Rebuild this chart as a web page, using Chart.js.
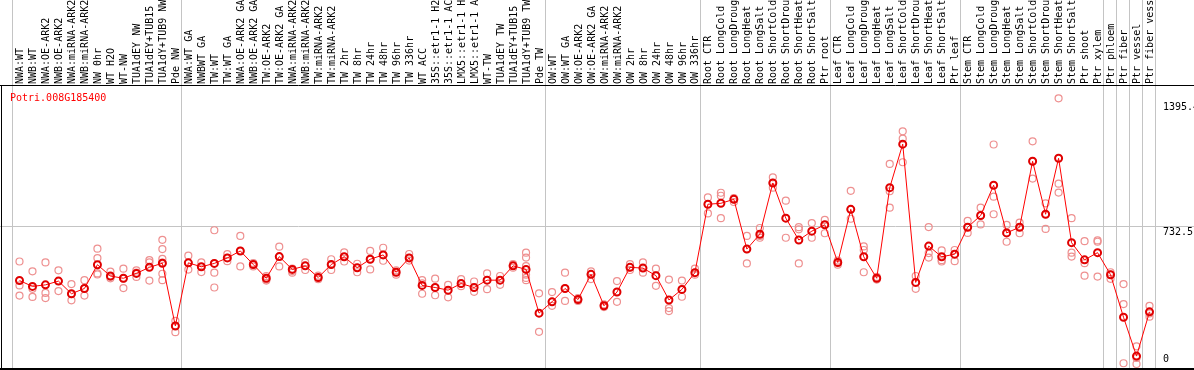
<!DOCTYPE html>
<html>
<head>
<meta charset="utf-8">
<script src="https://cdn.jsdelivr.net/npm/chart.js@4.4.0/dist/chart.umd.min.js"></script>
<style>
  html, body { margin: 0; padding: 0; background: #fff; }
  #wrap { width: 1194px; height: 370px; }
</style>
</head>
<body>
<div id="wrap"><canvas id="chart" width="1194" height="370"></canvas></div>
<script>
const geneName = 'Potri.008G185400';

const categories = [
  'NWA:WT', 'NWB:WT', 'NWA:OE-ARK2', 'NWB:OE-ARK2', 'NWA:miRNA-ARK2', 'NWB:miRNA-ARK2',
  'NW 0hr', 'WT H2O', 'WT-NW', 'TUA1dEY NW', 'TUA1dEY+TUB15 NW', 'TUA1dY+TUB9 NW', 'Pde NW',
  'NWA:WT GA', 'NWBWT GA', 'TW:WT', 'TW:WT GA', 'NWA:OE-ARK2 GA', 'NWB:OE-ARK2 GA',
  'TW:OE-ARK2', 'TW:OE-ARK2 GA', 'NWA:miRNA-ARK2', 'NWB:miRNA-ARK2', 'TW:miRNA-ARK2',
  'TW:miRNA-ARK2', 'TW 2hr', 'TW 8hr', 'TW 24hr', 'TW 48hr', 'TW 96hr', 'TW 336hr',
  'WT ACC', '35S::etr1-1 H2O', '35S::etr1-1 ACC', 'LMX5::etr1-1 H2O', 'LMX5::etr1-1 ACC',
  'WT-TW', 'TUA1dEY TW', 'TUA1dEY+TUB15 TW', 'TUA1dY+TUB9 TW', 'Pde TW',
  'OW:WT', 'OW:WT GA', 'OW:OE-ARK2', 'OW:OE-ARK2 GA', 'OW:miRNA-ARK2', 'OW:miRNA-ARK2',
  'OW 2hr', 'OW 8hr', 'OW 24hr', 'OW 48hr', 'OW 96hr', 'OW 336hr',
  'Root CTR', 'Root LongCold', 'Root LongDrought', 'Root LongHeat', 'Root LongSalt',
  'Root ShortCold', 'Root ShortDrought', 'Root ShortHeat', 'Root ShortSalt', 'Ptr root',
  'Leaf CTR', 'Leaf LongCold', 'Leaf LongDrought', 'Leaf LongHeat', 'Leaf LongSalt',
  'Leaf ShortCold', 'Leaf ShortDrought', 'Leaf ShortHeat', 'Leaf ShortSalt', 'Ptr leaf',
  'Stem CTR', 'Stem LongCold', 'Stem LongDrought', 'Stem LongHeat', 'Stem LongSalt',
  'Stem ShortCold', 'Stem ShortDrought', 'Stem ShortHeat', 'Stem ShortSalt',
  'Ptr shoot', 'Ptr xylem', 'Ptr phloem', 'Ptr fiber', 'Ptr vessel', 'Ptr fiber vessel'
];

// mean expression per sample (red line)
const means = [
  443, 412, 420, 440, 373, 401, 527, 467, 455, 481, 513, 535, 202,
  537, 516, 534, 563, 600, 528, 455, 570, 502, 521, 459, 528, 569, 511, 556, 579, 487, 563,
  417, 406, 392, 427, 406, 445, 445, 521, 502, 270,
  330, 401, 342, 476, 309, 382, 513, 509, 469, 340, 396, 485,
  848, 853, 874, 610, 689, 961, 774, 658, 705, 739,
  539, 821, 569, 455, 936, 1167, 433, 626, 569, 583,
  726, 788, 949, 696, 726, 1076, 795, 1092, 644, 553, 591,
  474, 248, 42, 277
];

// individual replicates (pale circles)
const replicates = [
  [544, 417, 363], [492, 399, 356], [539, 377, 350], [497, 440, 387], [424, 371, 338],
  [445, 401, 363], [612, 562, 481, 475], [490, 463, 455], [506, 453, 403], [497, 485, 462],
  [551, 539, 443], [659, 610, 558, 538, 479, 445], [229, 202, 169],
  [575, 537, 501], [539, 516, 488], [710, 534, 485, 406], [583, 563, 546], [680, 600, 518],
  [536, 527, 518], [466, 448, 443], [623, 568, 518], [507, 493, 485], [539, 521, 499],
  [469, 459, 450], [556, 528, 499], [593, 569, 544], [532, 511, 487], [600, 556, 502],
  [617, 579, 548], [497, 487, 474], [584, 563, 549], [445, 428, 373], [453, 406, 365],
  [420, 390, 354], [451, 427, 413], [438, 406, 383], [481, 445, 397], [467, 445, 420],
  [530, 521, 511], [591, 565, 520, 474, 457, 445], [375, 270, 171],
  [382, 330, 309], [485, 401, 335], [350, 342, 335], [492, 476, 451], [316, 309, 302],
  [440, 382, 330], [530, 513, 499], [539, 509, 485], [506, 469, 415], [448, 297, 281],
  [443, 396, 357], [506, 485, 474],
  [884, 848, 799], [909, 893, 774], [880, 874, 860], [680, 610, 534], [722, 680, 670],
  [991, 961, 936], [867, 774, 670], [726, 715, 534], [748, 705, 670], [765, 739, 694],
  [549, 539, 527], [919, 821, 771], [624, 605, 487], [462, 455, 448], [1062, 917, 830],
  [1235, 1196, 1071], [467, 433, 399], [727, 589, 565], [603, 551, 544], [605, 583, 546],
  [760, 726, 696], [830, 788, 741], [1165, 888, 795], [738, 696, 649], [750, 726, 694],
  [1182, 1076, 984], [853, 795, 717], [1410, 957, 910], [774, 591, 570], [652, 535, 469],
  [656, 649, 464],
  [487, 474, 452], [424, 318, 4], [94, 32, 0], [309, 268, 251]
];

// first sample index of each group (vertical separators)
const groupBreaks = [0, 13, 41, 53, 63, 73, 84, 85, 86, 87, 88];

const yMax = 1465;
const yTicks = [0, 732.5, 1395.4];
const yTickLabels = ['0', '732.5', '1395.4'];

const monoFont = '"DejaVu Sans Mono", "Liberation Mono", monospace';

const maxReps = Math.max(...replicates.map(r => r.length));
const repDatasets = [];
for (let k = 0; k < maxReps; k++) {
  repDatasets.push({
    data: replicates.map(r => (r[k] === undefined ? null : r[k])),
    showLine: false,
    pointRadius: 3.5,
    pointBorderWidth: 1.2,
    pointBorderColor: '#ee9090',
    pointBackgroundColor: 'transparent',
    clip: false
  });
}

const decorations = {
  id: 'decorations',
  beforeDatasetsDraw(chart) {
    const { ctx, scales: { x, y } } = chart;
    ctx.save();
    ctx.strokeStyle = '#c4c4c4';
    ctx.lineWidth = 1;
    // group separators run through the label strip
    groupBreaks.forEach(i => {
      const px = Math.round(x.getPixelForValue(i - 0.5)) - 0.5;
      ctx.beginPath();
      ctx.moveTo(px, 0);
      ctx.lineTo(px, chart.height);
      ctx.stroke();
    });
    // middle reference line
    const py = Math.round(y.getPixelForValue(yTicks[1])) + 0.5;
    ctx.beginPath();
    ctx.moveTo(0, py);
    ctx.lineTo(chart.width, py);
    ctx.stroke();
    ctx.restore();
  },
  afterDraw(chart) {
    const { ctx, chartArea, scales: { y } } = chart;
    ctx.save();
    // frame
    ctx.strokeStyle = '#000';
    ctx.lineWidth = 1;
    ctx.beginPath();
    ctx.moveTo(0, chartArea.top - 2.5);
    ctx.lineTo(chart.width, chartArea.top - 2.5);
    ctx.moveTo(1.5, chartArea.top - 2.5);
    ctx.lineTo(1.5, chart.height);
    ctx.stroke();
    ctx.lineWidth = 2;
    ctx.beginPath();
    ctx.moveTo(0, chart.height - 1);
    ctx.lineTo(chart.width, chart.height - 1);
    ctx.stroke();

    ctx.font = '10px ' + monoFont;
    ctx.textBaseline = 'top';
    ctx.textAlign = 'left';
    // gene id
    ctx.fillStyle = '#ff0000';
    ctx.fillText(geneName, 10, chartArea.top + 5);
    // right value labels
    ctx.fillStyle = '#000';
    yTicks.forEach((v, i) => {
      let py = y.getPixelForValue(v) + 1;
      py = Math.min(py, chartArea.bottom - 10);
      ctx.fillText(yTickLabels[i], chartArea.right + 7, py);
    });
    ctx.restore();
  }
};

new Chart(document.getElementById('chart'), {
  type: 'line',
  data: {
    labels: categories,
    datasets: [
      {
        data: means,
        borderColor: '#ff0000',
        borderWidth: 1,
        pointRadius: 3.5,
        pointBorderWidth: 2,
        pointBorderColor: '#e00000',
        pointBackgroundColor: 'transparent',
        tension: 0,
        clip: false
      },
      ...repDatasets
    ]
  },
  options: {
    responsive: false,
    animation: false,
    devicePixelRatio: 1,
    layout: { padding: { left: 13, right: 0, top: 0, bottom: 2 } },
    plugins: {
      legend: { display: false },
      tooltip: { enabled: false }
    },
    scales: {
      x: {
        position: 'top',
        offset: true,
        grid: { display: false, drawTicks: false },
        border: { display: false },
        ticks: {
          autoSkip: false,
          minRotation: 90,
          maxRotation: 90,
          padding: 4,
          labelOffset: 13,
          color: '#000',
          font: { family: monoFont, size: 10 }
        },
        afterFit: s => { s.height = 88; }
      },
      y: {
        position: 'right',
        min: 0,
        max: yMax,
        grid: { display: false, drawTicks: false },
        border: { display: false },
        ticks: { display: false },
        afterFit: s => { s.width = 38; }
      }
    }
  },
  plugins: [decorations]
});
</script>
</body>
</html>
